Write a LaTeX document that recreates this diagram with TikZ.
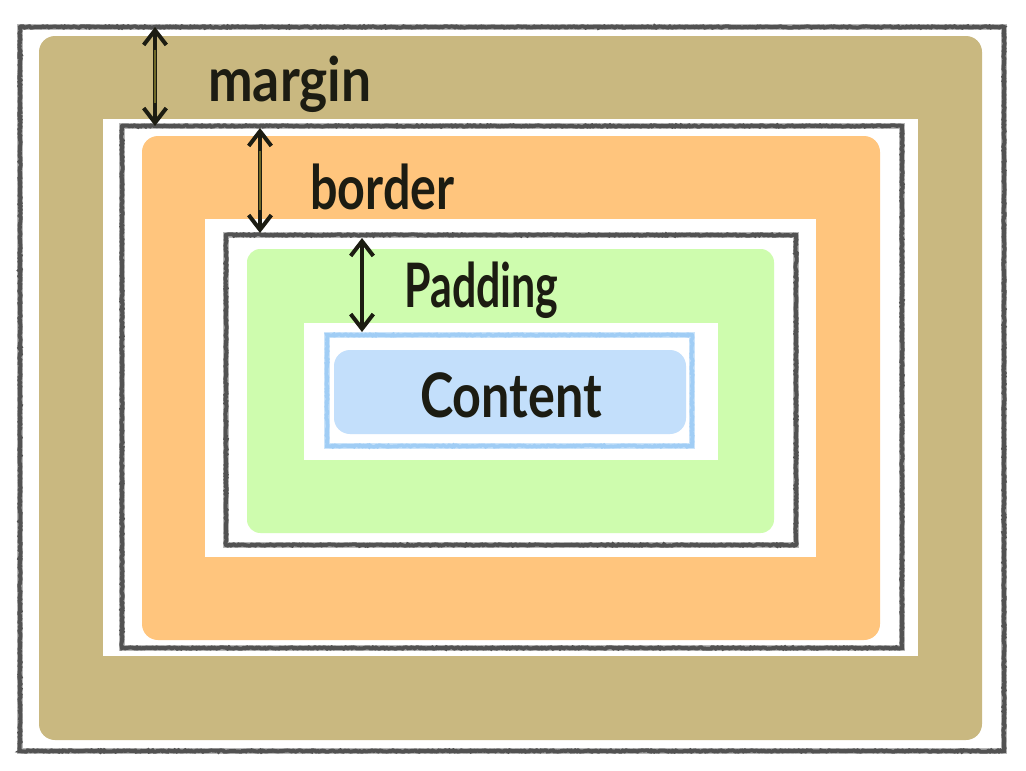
\documentclass[tikz,border=0pt]{standalone}
\usepackage{fontspec}
\setmainfont{Lato}
\usetikzlibrary{decorations.pathmorphing,arrows.meta}
\definecolor{tan}{RGB}{201,184,128}
\definecolor{orng}{RGB}{255,197,125}
\definecolor{grn}{RGB}{206,252,174}
\definecolor{blu}{RGB}{195,223,251}
\definecolor{bluline}{RGB}{160,205,245}
\definecolor{ink}{RGB}{28,28,18}
\definecolor{olive}{RGB}{110,104,40}
\begin{document}
\begin{tikzpicture}[x=0.75pt,y=-0.75pt,
  halo/.style={draw=black!28, line width=5.2pt},
  sketch/.style={draw=black!68, line width=3pt, decorate,
    decoration={random steps,segment length=1.2pt,amplitude=0.5pt}},
  bluehalo/.style={draw=bluline!55, line width=5pt},
  bluesketch/.style={draw=bluline, line width=2.8pt, decorate,
    decoration={random steps,segment length=1.2pt,amplitude=0.5pt}},
  dim/.style={draw=ink, line width=3pt, {Straight Barb[length=11pt,width=17pt]}-{Straight Barb[length=11pt,width=17pt]}},
  diminner/.style={draw=olive, line width=1.1pt},
  lbl/.style={text=ink, font=\fontsize{46}{48}\bfseries\selectfont, inner sep=0pt},
]
\useasboundingbox (0,0) rectangle (1026,771);
\fill[white] (0,0) rectangle (1026,771);

% margin level
\draw[halo] (20,27) rectangle (1004,751);
\draw[sketch] (20,27) rectangle (1004,751);
\fill[tan, rounded corners=12pt] (39,36) rectangle (982,740);
\fill[white] (103,119) rectangle (918,656);

% border level
\draw[halo] (122,126) rectangle (902,648);
\draw[sketch] (122,126) rectangle (902,648);
\fill[orng, rounded corners=12pt] (142,136) rectangle (880,640);
\fill[white] (205,219) rectangle (816,557);

% padding level
\draw[halo] (226,235) rectangle (796,545);
\draw[sketch] (226,235) rectangle (796,545);
\fill[grn, rounded corners=10pt] (247,249) rectangle (774,533);
\fill[white] (304,323) rectangle (718,460);

% content level
\draw[bluehalo] (327,335) rectangle (692,446);
\draw[bluesketch] (327,335) rectangle (692,446);
\fill[blu, rounded corners=12pt] (334,350) rectangle (686,434);

% dimension arrows
\coordinate (mtop) at (155,27);
\coordinate (mbot) at (155,126);
\coordinate (btop) at (260,128);
\coordinate (bbot) at (260,233);
\coordinate (ptop) at (362,238);
\coordinate (pbot) at (362,332);
\draw[dim] (mtop) -- (mbot);
\draw[diminner] ([yshift=-17pt]mtop) -- ([yshift=17pt]mbot);
\draw[dim] (btop) -- (bbot);
\draw[diminner] ([yshift=-17pt]btop) -- ([yshift=17pt]bbot);
\draw[dim] (ptop) -- (pbot);

% labels
\node[lbl, anchor=base west] (margin) at (208,101) {\scalebox{0.87}[1]{margin}};
\node[lbl, anchor=base west] (border) at (310,209) {\scalebox{0.79}[1]{border}};
\node[lbl, anchor=base west] (padding) at (404,307) {\scalebox{0.7}[1]{Padding}};
\node[lbl] (content) at (511,395) {\scalebox{0.82}[1]{Content}};
\end{tikzpicture}
\end{document}
